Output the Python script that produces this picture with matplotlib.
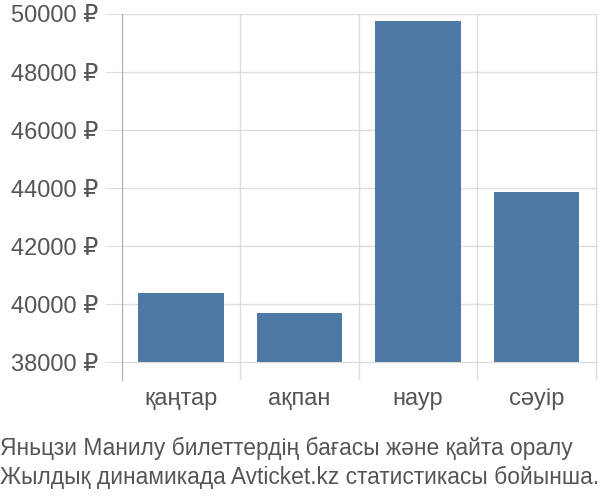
import matplotlib.pyplot as plt

plt.rcParams['font.family'] = ['Liberation Sans', 'DejaVu Sans']

# Ticket prices by month
months = ['қаңтар', 'ақпан', 'наур', 'сәуір']
prices = [40370, 39700, 49760, 43850]
yticks = [38000, 40000, 42000, 44000, 46000, 48000, 50000]
caption = ('Яньцзи Манилу билеттердің бағасы және қайта оралу\n'
           'Жылдық динамикада Avticket.kz статистикасы бойынша.')

text_color = '#555555'
grid_color = '#dddddd'

fig = plt.figure(figsize=(6, 5), dpi=100)
ax = fig.add_axes([0.203, 0.24, 0.794, 0.732])

x = list(range(len(months)))
ax.bar(x, [p - 38000 for p in prices], bottom=38000, width=0.72,
       color='#4e79a7', zorder=3)

ax.set_xlim(-0.5, 3.52)
ax.set_ylim(37380, 50000)

# horizontal grid + vertical separators between categories
for t in yticks:
    ax.axhline(t, color=grid_color, lw=1, zorder=1)
for b in [0.5, 1.5, 2.5, 3.5]:
    ax.axvline(b, color=grid_color, lw=1, zorder=1)

ax.set_yticks(yticks)
ax.set_yticklabels([f'{t} ₽' for t in yticks])
ax.set_xticks(x)
ax.set_xticklabels(months)
ax.tick_params(axis='y', length=12, color=grid_color, labelsize=17,
               labelcolor=text_color, pad=5)
ax.tick_params(axis='x', length=0, labelsize=17, labelcolor=text_color, pad=6)

for s in ['top', 'right', 'bottom']:
    ax.spines[s].set_visible(False)
ax.spines['left'].set_color('#aaaaaa')

fig.text(0.0, 0.074, caption, ha='left', va='center', fontsize=16.4,
         color=text_color, linespacing=1.3)

plt.savefig('out.png', dpi=100)
